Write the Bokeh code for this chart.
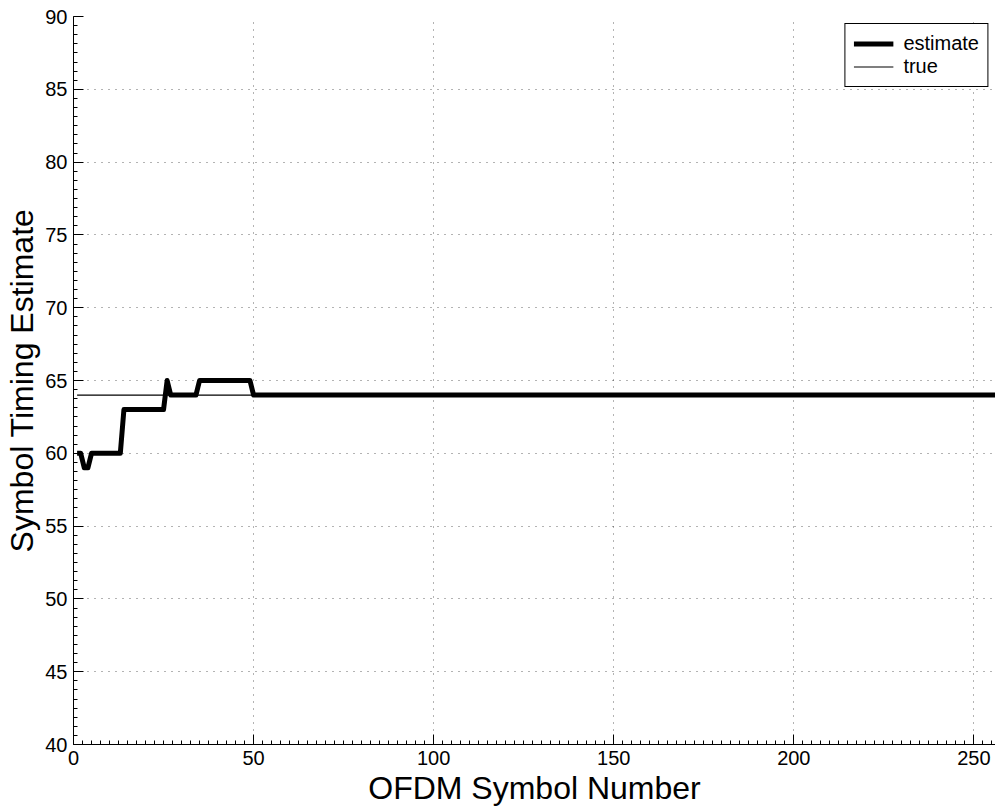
from bokeh.plotting import figure
from bokeh.models import SingleIntervalTicker, Range1d, Legend, LegendItem
from bokeh.embed import file_html
from bokeh.resources import INLINE

# ---- data ----
symbol_number = list(range(1, 257))
estimate = [
    60, 60, 59, 59, 60, 60, 60, 60, 60, 60, 60, 60, 60, 63, 63, 63,
    63, 63, 63, 63, 63, 63, 63, 63, 63, 65, 64, 64, 64, 64, 64, 64,
    64, 64, 65, 65, 65, 65, 65, 65, 65, 65, 65, 65, 65, 65, 65, 65,
    65, 64, 64, 64, 64, 64, 64, 64, 64, 64, 64, 64, 64, 64, 64, 64,
    64, 64, 64, 64, 64, 64, 64, 64, 64, 64, 64, 64, 64, 64, 64, 64,
    64, 64, 64, 64, 64, 64, 64, 64, 64, 64, 64, 64, 64, 64, 64, 64,
    64, 64, 64, 64, 64, 64, 64, 64, 64, 64, 64, 64, 64, 64, 64, 64,
    64, 64, 64, 64, 64, 64, 64, 64, 64, 64, 64, 64, 64, 64, 64, 64,
    64, 64, 64, 64, 64, 64, 64, 64, 64, 64, 64, 64, 64, 64, 64, 64,
    64, 64, 64, 64, 64, 64, 64, 64, 64, 64, 64, 64, 64, 64, 64, 64,
    64, 64, 64, 64, 64, 64, 64, 64, 64, 64, 64, 64, 64, 64, 64, 64,
    64, 64, 64, 64, 64, 64, 64, 64, 64, 64, 64, 64, 64, 64, 64, 64,
    64, 64, 64, 64, 64, 64, 64, 64, 64, 64, 64, 64, 64, 64, 64, 64,
    64, 64, 64, 64, 64, 64, 64, 64, 64, 64, 64, 64, 64, 64, 64, 64,
    64, 64, 64, 64, 64, 64, 64, 64, 64, 64, 64, 64, 64, 64, 64, 64,
    64, 64, 64, 64, 64, 64, 64, 64, 64, 64, 64, 64, 64, 64, 64, 64,
]
true_x = [1, 256]
true_y = [64, 64]

x_label = "OFDM Symbol Number"
y_label = "Symbol Timing Estimate"
FONT = "Liberation Sans"

p = figure(width=995, height=812, output_backend="svg", toolbar_location=None,
           x_range=Range1d(0, 256), y_range=Range1d(40, 90),
           min_border_left=73, min_border_top=16, min_border_right=0,
           min_border_bottom=68)
p.outline_line_color = None
p.background_fill_color = "white"
p.border_fill_color = "white"

r_est = p.line(symbol_number, estimate, line_color="black", line_width=5,
               line_join="round")
r_true = p.line(true_x, true_y, line_color="black", line_width=1.2)

p.xaxis.ticker = SingleIntervalTicker(interval=50, num_minor_ticks=20)
p.yaxis.ticker = SingleIntervalTicker(interval=5, num_minor_ticks=8)

for ax in (p.xaxis[0], p.yaxis[0]):
    ax.axis_line_color = "black"
    ax.axis_line_width = 1
    ax.major_tick_in = 10
    ax.major_tick_out = 0
    ax.minor_tick_in = 4
    ax.minor_tick_out = 0
    ax.major_tick_line_color = "black"
    ax.minor_tick_line_color = "black"
    ax.major_label_text_font = FONT
    ax.major_label_text_font_size = "20px"
    ax.major_label_text_color = "black"
    ax.axis_label_text_font = FONT
    ax.axis_label_text_font_size = "32px"
    ax.axis_label_text_font_style = "normal"
    ax.axis_label_text_color = "black"
    ax.major_label_standoff = 6
    ax.axis_label_standoff = 2

p.xaxis.axis_label = x_label
p.yaxis.axis_label = y_label

p.grid.grid_line_color = "black"
p.grid.grid_line_alpha = 0.6
p.grid.grid_line_dash = "1 6"
p.grid.grid_line_width = 1

legend = Legend(items=[LegendItem(label="estimate", renderers=[r_est]),
                       LegendItem(label="true", renderers=[r_true])],
                location="top_right")
legend.label_text_font = FONT
legend.label_text_font_size = "20px"
legend.label_text_color = "black"
legend.border_line_color = "black"
legend.border_line_width = 1
legend.border_line_alpha = 1
legend.background_fill_alpha = 1
legend.glyph_width = 40
legend.glyph_height = 23
legend.label_standoff = 10
legend.label_height = 23
legend.spacing = 0
legend.padding = 8
legend.margin = 7
p.add_layout(legend)

open("out.html", "w").write(file_html(p, INLINE))
